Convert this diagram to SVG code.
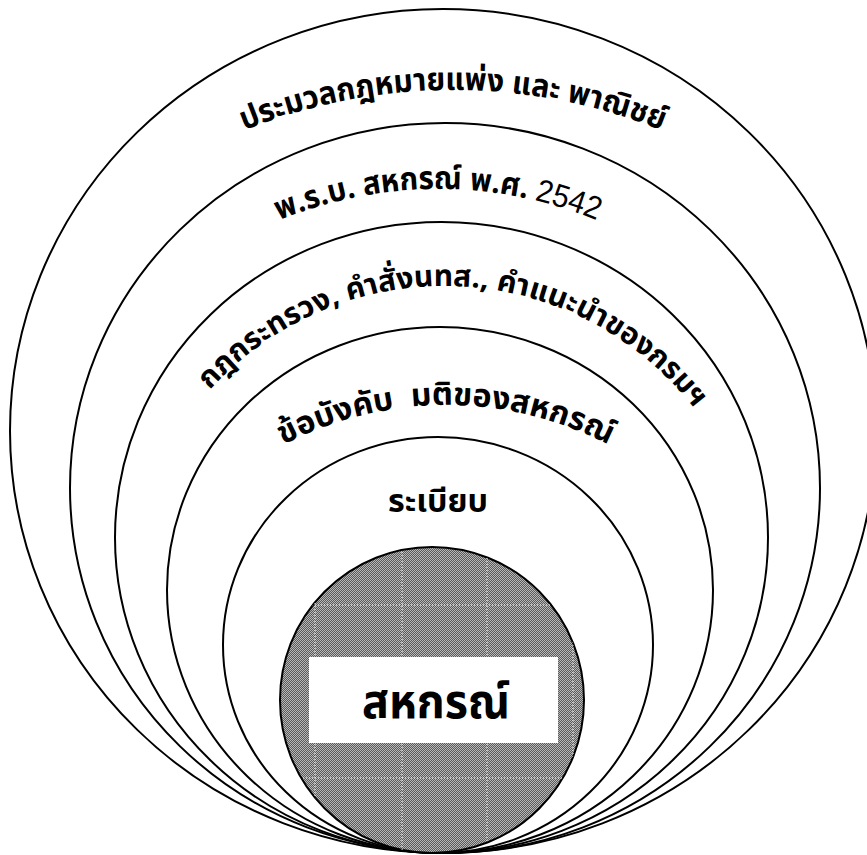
<svg xmlns="http://www.w3.org/2000/svg" width="867" height="855" viewBox="0 0 867 855">
  <style>
    .ring { fill: #ffffff; stroke: #000000; stroke-width: 2; }
    .core { fill: url(#dither); stroke: #000000; stroke-width: 2; }
    .lbl { font-family: "Noto Sans Thai", "Loma", "Garuda", "Noto Sans", "DejaVu Sans", sans-serif; font-weight: bold; fill: #000000; }
    .num { font-family: "Liberation Sans", Arial, sans-serif; font-weight: normal; }
    .seam { stroke: #ffffff; stroke-width: 1; stroke-dasharray: 1 2; fill: none; }
  </style>
  <defs>
    <pattern id="dither" x="0" y="0" width="2" height="2" patternUnits="userSpaceOnUse">
      <rect width="2" height="2" fill="#5a5a5a"/>
      <rect x="0" y="0" width="1" height="1" fill="#b8b8b8"/>
      <rect x="1" y="1" width="1" height="1" fill="#b8b8b8"/>
    </pattern>
    <clipPath id="coreClip">
      <ellipse cx="432" cy="700" rx="152" ry="153"/>
    </clipPath>
    <path id="p1" d="M-107,650 A560,560 0 0 1 1013,650"/>
    <path id="p2" d="M18,609 A420,420 0 0 1 858,609"/>
    <path id="p3" d="M128.5,602 A316,316 0 0 1 760.5,602"/>
    <path id="p4" d="M94,757 A352,352 0 0 1 798,757"/>
  </defs>

  <g id="ring1">
    <ellipse class="ring" cx="443" cy="431" rx="433" ry="422"/>
    <text class="lbl" font-size="32"><textPath href="#p1" startOffset="50%" text-anchor="middle" textLength="428" lengthAdjust="spacingAndGlyphs">ประมวลกฎหมายแพ่ง และ พาณิชย์</textPath></text>
  </g>

  <g id="ring2">
    <ellipse class="ring" cx="445" cy="488" rx="375" ry="365"/>
    <text class="lbl" font-size="32"><textPath href="#p2" startOffset="50%" text-anchor="middle" textLength="326" lengthAdjust="spacingAndGlyphs">พ.ร.บ. สหกรณ์ พ.ศ. <tspan class="num">2542</tspan></textPath></text>
  </g>

  <g id="ring3">
    <ellipse class="ring" cx="441.5" cy="537.5" rx="326.5" ry="315.5"/>
    <text class="lbl" font-size="30"><textPath href="#p3" startOffset="508" text-anchor="middle" textLength="552" lengthAdjust="spacingAndGlyphs">กฎกระทรวง, คำสั่งนทส., คำแนะนำของกรมฯ</textPath></text>
  </g>

  <g id="ring4">
    <ellipse class="ring" cx="440" cy="590" rx="273" ry="263"/>
    <text class="lbl" font-size="32" xml:space="preserve"><textPath href="#p4" startOffset="50%" text-anchor="middle" textLength="338" lengthAdjust="spacingAndGlyphs">ข้อบังคับ  มติของสหกรณ์</textPath></text>
  </g>

  <g id="ring5">
    <ellipse class="ring" cx="438" cy="645" rx="215" ry="208"/>
    <text class="lbl" font-size="32" x="438" y="512" text-anchor="middle" textLength="100" lengthAdjust="spacingAndGlyphs">ระเบียบ</text>
  </g>

  <g id="core">
    <ellipse class="core" cx="432" cy="700" rx="152" ry="153"/>
    <g clip-path="url(#coreClip)">
      <line class="seam" x1="315" y1="540" x2="315" y2="855"/>
      <line class="seam" x1="402" y1="540" x2="402" y2="855"/>
      <line class="seam" x1="487" y1="540" x2="487" y2="855"/>
      <line class="seam" x1="573" y1="540" x2="573" y2="855"/>
      <line class="seam" x1="270" y1="605" x2="600" y2="605"/>
      <line class="seam" x1="270" y1="778" x2="600" y2="778"/>
    </g>
    <rect x="309" y="657" width="249" height="86" fill="#ffffff"/>
    <text x="436" y="718" text-anchor="middle" font-family="'Noto Sans Thai', 'Loma', 'Garuda', 'Noto Sans', sans-serif" font-weight="bold" font-size="48" fill="#000000" textLength="148" lengthAdjust="spacingAndGlyphs">สหกรณ์</text>
  </g>

  <g id="connectors"></g>
</svg>
